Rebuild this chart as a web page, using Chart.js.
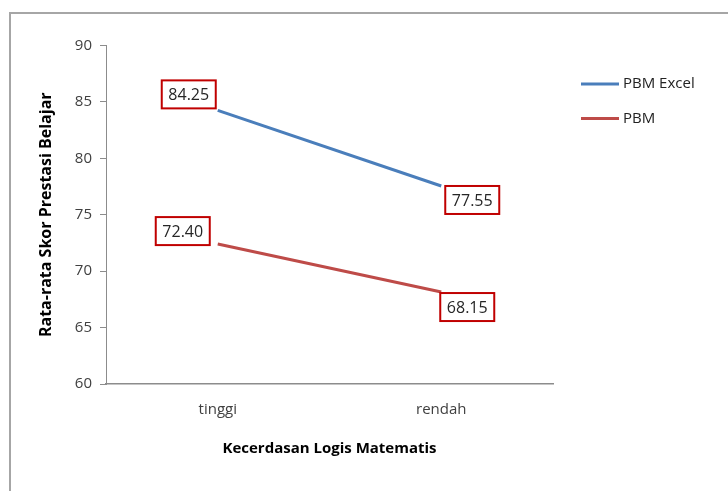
<!DOCTYPE html>
<html>
<head>
<meta charset="utf-8">
<script src="https://cdn.jsdelivr.net/npm/chart.js@4"></script>
<style>
    html, body { margin: 0; padding: 0; background: #fff; overflow: hidden; }
    #wrap { position: relative; width: 728px; height: 491px; }
    #frame { position: absolute; left: 9px; top: 12px; width: 900px; height: 700px;
             border-top: 2px solid #a6a6a6; border-left: 2px solid #a6a6a6; }
    #chart { position: absolute; left: 0; top: 0; }
</style>
</head>
<body>
<div id="wrap">
    <div id="frame"></div>
    <canvas id="chart" width="728" height="491"></canvas>
</div>
<script>
const categories = ['tinggi', 'rendah'];
const seriesNames = ['PBM Excel', 'PBM'];
const pbmExcel = [84.25, 77.55];
const pbm = [72.40, 68.15];
const yTicks = [60, 65, 70, 75, 80, 85, 90];

const FONT = "'Open Sans', 'Noto Sans', sans-serif";
const colors = ['#4A7EBB', '#BE4B48'];

// label box placement relative to each point (box top-left offset)
const labelOffsets = [
    [[-56, -30], [4, 0]],
    [[-62, -27], [-1, 1]]
];

const labelBoxes = {
    id: 'labelBoxes',
    afterDatasetsDraw(chart) {
        const ctx = chart.ctx;
        ctx.save();
        ctx.font = '16px ' + FONT;
        ctx.textAlign = 'center';
        ctx.textBaseline = 'middle';
        chart.data.datasets.forEach((ds, di) => {
            chart.getDatasetMeta(di).data.forEach((pt, i) => {
                const [dx, dy] = labelOffsets[di][i];
                const x = pt.x + dx, y = pt.y + dy, w = 54, h = 28;
                ctx.fillStyle = '#fff';
                ctx.fillRect(x, y, w, h);
                ctx.strokeStyle = '#C00000';
                ctx.lineWidth = 2;
                ctx.strokeRect(x, y, w, h);
                ctx.fillStyle = '#262626';
                ctx.fillText(ds.data[i].toFixed(2), x + w / 2, y + h / 2 + 1);
            });
        });
        ctx.restore();
    }
};

const sideLegend = {
    id: 'sideLegend',
    afterDraw(chart) {
        const ctx = chart.ctx;
        const x0 = chart.chartArea.right + 28;
        ctx.save();
        ctx.font = '15px ' + FONT;
        ctx.textAlign = 'left';
        ctx.textBaseline = 'middle';
        chart.data.datasets.forEach((ds, i) => {
            const y = 84 + i * 34.5;
            ctx.strokeStyle = ds.borderColor;
            ctx.lineWidth = 3;
            ctx.beginPath();
            ctx.moveTo(x0, y);
            ctx.lineTo(x0 + 38, y);
            ctx.stroke();
            ctx.fillStyle = '#222';
            ctx.fillText(ds.label, x0 + 42, y);
        });
        ctx.restore();
    }
};

new Chart(document.getElementById('chart'), {
    type: 'line',
    data: {
        labels: categories,
        datasets: [
            { label: seriesNames[0], data: pbmExcel, borderColor: colors[0], backgroundColor: colors[0],
              borderWidth: 3, pointRadius: 0, tension: 0 },
            { label: seriesNames[1], data: pbm, borderColor: colors[1], backgroundColor: colors[1],
              borderWidth: 3, pointRadius: 0, tension: 0 }
        ]
    },
    options: {
        responsive: false,
        animation: false,
        layout: { padding: { left: 0, top: 45.5, right: 175, bottom: 29 } },
        plugins: { legend: { display: false }, tooltip: { enabled: false } },
        scales: {
            x: {
                offset: true,
                grid: { display: false, drawTicks: false },
                border: { display: true, color: '#8c8c8c', width: 1.5 },
                ticks: { padding: 17, color: '#404040', font: { family: FONT, size: 15 } },
                title: { display: true, text: 'Kecerdasan Logis Matematis', color: '#000',
                         font: { family: FONT, size: 15, weight: 'bold' }, padding: { top: 4, bottom: 4 } },
                afterFit(scale) { scale.height = 78; }
            },
            y: {
                min: 60, max: 90,
                afterBuildTicks(scale) { scale.ticks = yTicks.map(v => ({ value: v })); },
                grid: { drawOnChartArea: false, drawTicks: true, tickLength: 6, color: '#8c8c8c' },
                border: { display: true, color: '#8c8c8c', width: 1 },
                ticks: { padding: 8, color: '#404040', font: { family: FONT, size: 15 } },
                title: { display: true, text: 'Rata-rata Skor Prestasi Belajar', color: '#000',
                         font: { family: FONT, size: 16, weight: 'bold' }, padding: { top: 37, bottom: 4 } },
                afterFit(scale) { scale.width = 106; }
            }
        }
    },
    plugins: [labelBoxes, sideLegend]
});
</script>
</body>
</html>
